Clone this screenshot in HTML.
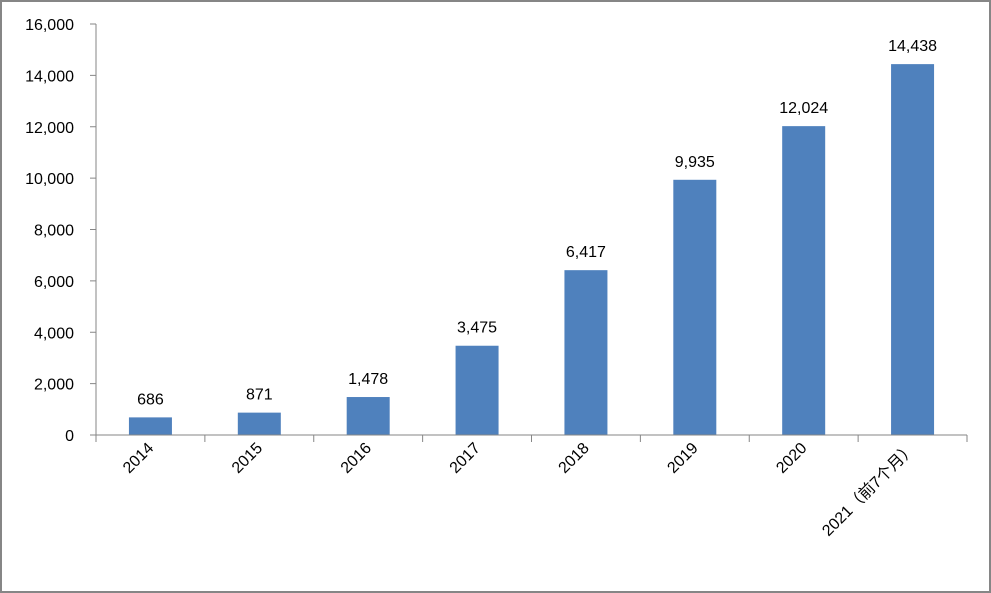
<!DOCTYPE html>
<html><head><meta charset="utf-8"><style>
html,body{margin:0;padding:0;background:#fff}
svg{display:block;font-family:"Liberation Sans","Noto Sans CJK SC",sans-serif}
</style></head><body>
<svg width="991" height="593">
<rect x="1" y="1" width="989" height="591" fill="#fff" stroke="#868686" stroke-width="2"/>
<g id="g"></g>
</svg>
<script>
const categories=["2014","2015","2016","2017","2018","2019","2020","2021（前7个月）"];
const values=[686,871,1478,3475,6417,9935,12024,14438];
const yTicks=[0,2000,4000,6000,8000,10000,12000,14000,16000];
const X0=96,X1=967,Y0=435,Y1=24,YMAX=16000;
const bw=(X1-X0)/categories.length;
const y=v=>Y0-(v/YMAX)*(Y0-Y1);
const xc=i=>X0+bw*(i+0.5);
const g=document.getElementById('g');
const NS="http://www.w3.org/2000/svg";
function mk(t,a){const e=document.createElementNS(NS,t);for(const k in a)e.setAttribute(k,a[k]);g.appendChild(e);return e;}
yTicks.forEach(t=>{
  const tk=mk('line',{x1:X0-6,x2:X0,y1:y(t),y2:y(t),stroke:'#868686'});
  
  
  const l=mk('text',{x:X0-22,y:y(t)+6,'text-anchor':'end','font-size':16,fill:'#000'});
  l.textContent=t.toLocaleString('en-US');
  
  
});
const ya=mk('line',{x1:X0,x2:X0,y1:Y1,y2:Y0,stroke:'#868686'});


values.forEach((v,i)=>{
  const b=mk('rect',{x:xc(i)-21.5,y:y(v),width:43,height:Y0-y(v),fill:'#4F81BD'});
  
  
  const t=mk('text',{x:xc(i),y:y(v)-13,'text-anchor':'middle','font-size':16,fill:'#000'});
  t.textContent=v.toLocaleString('en-US');
  
  
  const c=xc(i)+4,cy=449;
  const xl=mk('text',{x:c,y:cy,'text-anchor':'end','font-size':16,fill:'#000',transform:`rotate(-45 ${c} ${cy})`});
  xl.textContent=categories[i];
  
  
});
for(let i=0;i<=categories.length;i++){
  const tk=mk('line',{x1:X0+bw*i,x2:X0+bw*i,y1:Y0,y2:Y0+7,stroke:'#868686'});
  
  
}
const xa=mk('line',{x1:X0,x2:X1,y1:Y0,y2:Y0,stroke:'#868686'});


</script>
</body></html>
